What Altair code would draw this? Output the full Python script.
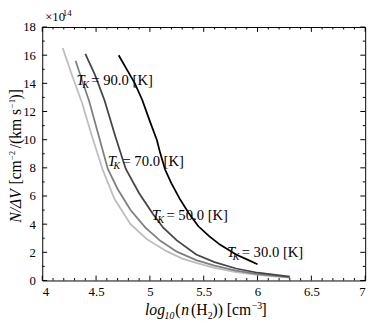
import altair as alt
import pandas as pd

# ---- data ----
temps = ["90.0", "70.0", "50.0", "30.0"]

logn_90 = [4.19, 4.28, 4.37, 4.46, 4.56, 4.67, 4.82, 4.97, 5.15, 5.30, 5.43, 5.60, 5.80, 6.00, 6.30]
N_90 = [16.5, 14.5, 12.6, 10.3, 7.9, 5.8, 4.0, 2.95, 2.1, 1.55, 1.25, 0.9, 0.6, 0.4, 0.2]

logn_70 = [4.31, 4.37, 4.434, 4.52, 4.609, 4.70, 4.82, 4.958, 5.10, 5.25, 5.43, 5.60, 5.80, 6.00, 6.30]
N_70 = [15.6, 14.2, 12.78, 10.4, 7.92, 6.5, 5.0, 3.75, 2.8, 2.05, 1.45, 1.05, 0.7, 0.45, 0.22]

logn_50 = [4.40, 4.49, 4.579, 4.68, 4.776, 4.90, 5.03, 5.124, 5.25, 5.43, 5.60, 5.80, 6.00, 6.30]
N_50 = [16.1, 14.6, 12.78, 10.2, 7.92, 6.2, 4.7, 3.75, 2.85, 1.85, 1.3, 0.85, 0.55, 0.28]

logn_30 = [4.71, 4.80, 4.86, 4.93, 5.00, 5.064, 5.094, 5.14, 5.20, 5.275, 5.36, 5.45, 5.55, 5.65, 5.80, 5.90, 6.00]
N_30 = [16.0, 14.8, 14.0, 12.8, 11.3, 10.0, 9.1, 7.9, 6.9, 5.83, 4.8, 3.85, 3.15, 2.55, 1.85, 1.5, 1.15]

label_x = [4.319, 4.608, 5.017, 5.716]
label_y = [13.9, 8.15, 4.28, 1.69]

x_major = [4, 4.5, 5, 5.5, 6, 6.5, 7]
x_minor = [round(4 + 0.1 * i, 1) for i in range(31)]
y_major = [0, 2, 4, 6, 8, 10, 12, 14, 16, 18]
y_minor = list(range(0, 19))

colors = ["#bdbdbd", "#7f7f7f", "#454545", "#000000"]

rows = []
for T, xs, ys in zip(temps, [logn_90, logn_70, logn_50, logn_30], [N_90, N_70, N_50, N_30]):
    for a, b in zip(xs, ys):
        rows.append({"T": T, "logn": a, "N": b})
df = pd.DataFrame(rows)
lab = pd.DataFrame({"T": temps, "logn": label_x, "N": label_y,
                    "rest": ["= " + t + " [K]" for t in temps]})

W, H = 330, 259
FONT = "Liberation Serif, Times New Roman, serif"
xs_ = alt.Scale(domain=[4, 7], nice=False, zero=False)
ys_ = alt.Scale(domain=[0, 18], nice=False, zero=False)
xax = alt.Axis(values=x_major, format="~g", ticks=False, domain=False, grid=False, labelFont=FONT,
               labelFontSize=13, labelColor="black", labelPadding=5, title=None)
yax = alt.Axis(values=y_major, format="d", ticks=False, domain=False, grid=False, labelFont=FONT,
               labelFontSize=13, labelColor="black", labelPadding=7, title=None)
X = alt.X("logn:Q", scale=xs_, axis=xax)
Y = alt.Y("N:Q", scale=ys_, axis=yax)

lines = alt.Chart(df).mark_line(strokeWidth=1.8).encode(
    x=X, y=Y,
    color=alt.Color("T:N", scale=alt.Scale(domain=temps, range=colors), legend=None),
)

# tick tables (tick values in the same fields as the data so the axes merge)
tx_maj = pd.DataFrame({"logn": x_major})
tx_min = pd.DataFrame({"logn": [v for v in x_minor if v not in x_major]})
ty_maj = pd.DataFrame({"N": y_major})
ty_min = pd.DataFrame({"N": [v for v in y_minor if v not in y_major]})


def xticks(d, L):
    b = alt.Chart(d).mark_rule(color="black", strokeWidth=1).encode(
        x=X, y=alt.value(H), y2=alt.value(H - L))
    t = alt.Chart(d).mark_rule(color="black", strokeWidth=1).encode(
        x=X, y=alt.value(0), y2=alt.value(L))
    return [b, t]


def yticks(d, L):
    l = alt.Chart(d).mark_rule(color="black", strokeWidth=1).encode(
        y=Y, x=alt.value(0), x2=alt.value(L))
    r = alt.Chart(d).mark_rule(color="black", strokeWidth=1).encode(
        y=Y, x=alt.value(W), x2=alt.value(W - L))
    return [l, r]


ticks = xticks(tx_maj, 5) + xticks(tx_min, 2.5) + yticks(ty_maj, 5) + yticks(ty_min, 2.5)

lab_T = alt.Chart(lab).mark_text(font=FONT, fontSize=15, fontStyle="italic", align="left",
                                 baseline="alphabetic", color="black").encode(
    x=X, y=Y, text=alt.value("T"))
lab_K = alt.Chart(lab).mark_text(font=FONT, fontSize=10, fontStyle="italic", align="left",
                                 baseline="alphabetic", color="black", dx=6, dy=3).encode(
    x=X, y=Y, text=alt.value("K"))
lab_rest = alt.Chart(lab).mark_text(font=FONT, fontSize=15, align="left",
                                    baseline="alphabetic", color="black", dx=15).encode(
    x=X, y=Y, text="rest:N")

one = pd.DataFrame({"a": [0]})


def txt(s, x, y, size=16, italic=False, angle=0):
    kw = dict(text=s, font=FONT, fontSize=size, align="left", baseline="alphabetic", color="black")
    if italic:
        kw["fontStyle"] = "italic"
    if angle:
        kw["angle"] = angle
    return alt.Chart(one).mark_text(**kw).encode(x=alt.value(x), y=alt.value(y))


# x-axis title pieces:  log10(n(H2)) [cm-3]
xt = [
    txt("log", 105, 294, italic=True),
    txt("10", 125, 298, size=10, italic=True),
    txt("(", 136, 294),
    txt("n", 142, 294, italic=True),
    txt("(H", 152, 294),
    txt("2", 169, 298, size=10),
    txt(")) [cm", 174, 294),
    txt("\u22123", 214, 288, size=10),
    txt("]", 224, 294),
]

# y-axis title pieces (rotated):  N/ΔV [cm-2/(km s-1)]
yb = -22
ysup = -27.5
yt = [
    txt("N/\u0394V", yb, 200, italic=True, angle=270),
    txt("[cm", yb, 161, angle=270),
    txt("\u22122", ysup, 136, size=9, angle=270),
    txt("/(km s", yb, 124, angle=270),
    txt("\u22121", ysup, 83, size=9, angle=270),
    txt(")]", yb, 74, angle=270),
]

exp = txt("\u00d710", 3, -6, size=13) + txt("14", 21, -11, size=9)

chart = alt.layer(lines, *ticks, lab_T, lab_K, lab_rest, *xt, *yt, exp).properties(
    width=W, height=H,
    autosize=alt.AutoSizeParams(type="none"),
    padding={"left": 35, "top": 16, "right": 9, "bottom": 40},
).configure_view(stroke="black", strokeWidth=1)

chart.save("out.html", embed_options={"renderer": "svg", "actions": False})
